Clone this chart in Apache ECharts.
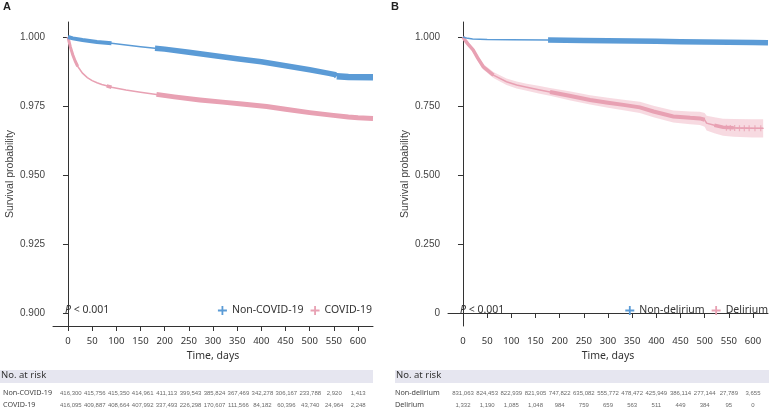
<!DOCTYPE html>
<html><head><meta charset="utf-8">
<script src="https://cdn.jsdelivr.net/npm/echarts@6/dist/echarts.min.js"></script>
<style>html,body{margin:0;padding:0;background:#fff}#c{width:769px;height:412px}</style>
</head><body><div id="c"></div>
<script>
// ---------- data ----------
const riskTimes = [0,50,100,150,200,250,300,350,400,450,500,550,600];
const yTicksA = [0.900,0.925,0.950,0.975,1.000];
const yTicksB = [0,0.25,0.5,0.75,1.0];

// Panel A: Non-COVID-19
const aNonT = [0,10,30,60,90,120,150,180,200,250,300,350,400,450,500,540,552,556,580,631];
const aNonS = [1.0,0.9995,0.9989,0.9982,0.9977,0.9971,0.9965,0.9959,0.9956,0.9945,0.9933,0.9921,0.9910,0.9896,0.9881,0.9868,0.9864,0.9858,0.9855,0.9854];
// Panel A: COVID-19
const aCovT = [0,2,5,10,15,20,30,40,50,60,70,80,90,120,150,183,220,273,320,360,411,450,500,549,580,600,631];
const aCovS = [1.0,0.9985,0.9963,0.9935,0.9912,0.9894,0.9869,0.9853,0.9842,0.9834,0.9828,0.9823,0.9818,0.9808,0.9800,0.9792,0.9783,0.9772,0.9764,0.9757,0.9748,0.9738,0.9726,0.9716,0.9710,0.9707,0.9705];

// Panel B: Non-delirium
const bNonT = [0,5,10,20,50,100,176,250,300,350,400,450,500,550,600,631];
const bNonS = [1.0,0.997,0.995,0.993,0.991,0.990,0.989,0.9875,0.9865,0.9853,0.9842,0.9831,0.982,0.981,0.980,0.979];
// Panel B: Delirium (with 95% CI)
const bDelT = [0,4,10,21,30,42,63,90,111,132,159,180,220,263,300,332,366,394,435,470,490,500,504,520,538,560,600,621];
const bDelS = [1.0,0.989,0.975,0.953,0.925,0.892,0.862,0.838,0.826,0.818,0.808,0.801,0.787,0.772,0.762,0.754,0.745,0.730,0.712,0.707,0.705,0.700,0.688,0.680,0.673,0.671,0.669,0.669];
const bDelLo = [1.0,0.985,0.969,0.945,0.916,0.882,0.851,0.826,0.813,0.805,0.794,0.787,0.771,0.755,0.744,0.735,0.725,0.709,0.690,0.684,0.681,0.675,0.661,0.651,0.642,0.639,0.636,0.636];
const bDelHi = [1.0,0.993,0.981,0.961,0.934,0.902,0.873,0.850,0.839,0.831,0.822,0.815,0.803,0.789,0.780,0.773,0.765,0.751,0.734,0.730,0.729,0.725,0.715,0.709,0.704,0.703,0.702,0.702];
// Delirium late censor marks
const bDelCensT = [545,553,562,572,582,592,604,616];
const bDelCensS = [0.671,0.670,0.670,0.669,0.669,0.669,0.669,0.669];

// Numbers at risk
const aNonRisk = [416300,415756,415350,414961,411113,399543,385824,367469,342278,306167,233788,2920,1413];
const aCovRisk = [416095,409887,408664,407992,337493,226298,170607,111566,84182,60396,43740,24964,2248];
const bNonRisk = [831063,824453,822939,821905,747822,635082,555772,478472,425949,386114,277144,27789,3655];
const bDelRisk = [1332,1190,1085,1048,984,759,659,563,511,449,384,95,0];

// ---------- styling ----------
const BLUE = '#5b9bd6', PINK = '#e8a1b3', PINK_CI = '#f6d6de';
const FONT = 'Noto Sans', FONT2 = 'Liberation Sans';
const plusIcon = 'path://M4,0h2v4h4v2h-4v4h-2v-4h-4v-2h4z';

function pairs(T,S){return T.map((t,i)=>[t,S[i]]);}
function seg(T,S,a,b){return pairs(T,S).filter(p=>p[0]>=a&&p[0]<=b);}

const X0 = -31, X1 = 631;
function mainX(idx){
  return {gridIndex:idx,type:'value',min:X0,max:X1,
    axisLine:{show:true,lineStyle:{color:'#333',width:1}},
    axisTick:{show:true,length:5,lineStyle:{color:'#333'},customValues:riskTimes},
    axisLabel:{show:true,customValues:riskTimes,margin:10,fontSize:9.5,color:'#333',fontFamily:FONT},
    splitLine:{show:false},
    name:'Time, days',nameLocation:'middle',nameGap:25,
    nameTextStyle:{fontSize:10.5,color:'#333',fontFamily:FONT}};
}
function mainY(idx,min,max,ticks,fmt){
  return {gridIndex:idx,type:'value',min:min,max:max,
    axisLine:{show:true,lineStyle:{color:'#333',width:1}},
    axisTick:{show:true,length:5,lineStyle:{color:'#333'},customValues:ticks},
    axisLabel:{show:true,customValues:ticks,margin:8,fontSize:10,color:'#444',fontFamily:FONT2,formatter:fmt},
    splitLine:{show:false},
    name:'Survival probability',nameLocation:'middle',nameGap:37,
    nameTextStyle:{fontSize:10.5,color:'#444',fontFamily:FONT2}};
}
function tableX(idx){
  return {gridIndex:idx,type:'value',min:X0,max:X1,show:false};
}
function tableY(idx,names,margin){
  return {gridIndex:idx,type:'category',data:names,inverse:true,
    axisLine:{show:false},axisTick:{show:false},splitLine:{show:false},
    axisLabel:{show:true,align:'left',margin:margin,fontSize:7.2,color:'#444',fontFamily:FONT}};
}
function line(name,data,xi,color,width,z){
  return {name:name,type:'line',xAxisIndex:xi,yAxisIndex:xi,data:data,
    symbol:'none',showSymbol:false,silent:true,z:z||3,
    lineStyle:{color:color,width:width,cap:'butt',join:'miter'},itemStyle:{color:color}};
}
function riskSeries(xi,row,vals){
  return {type:'scatter',xAxisIndex:xi,yAxisIndex:xi,silent:true,symbolSize:1,
    itemStyle:{color:'transparent'},
    data:riskTimes.map((t,i)=>[t,row,vals[i]]),
    label:{show:true,position:'inside',fontSize:6,color:'#444',fontFamily:FONT2,
      formatter:p=>p.value[2].toLocaleString('en-US')}};
}

const bandData = bDelT.map((t,i)=>[t,bDelLo[i],bDelHi[i]]);
const bandSeries = {
  type:'custom',xAxisIndex:1,yAxisIndex:1,silent:true,z:1,
  data:bandData,
  encode:{x:0,y:[1,2]},
  renderItem:function(params,api){
    if(params.dataIndex!==0) return null;
    const up = bandData.map(d=>api.coord([d[0],d[2]]));
    const lo = bandData.map(d=>api.coord([d[0],d[1]])).reverse();
    return {type:'polygon',shape:{points:up.concat(lo)},style:{fill:PINK_CI,opacity:0.9}};
  }
};

const series = [
  // Panel A
  line('Non-COVID-19',pairs(aNonT,aNonS),0,BLUE,1.5,4),
  line('_aNon1',seg(aNonT,aNonS,0,90),0,BLUE,4,4),
  line('_aNon2',seg(aNonT,aNonS,180,556),0,BLUE,5.5,4),
  line('_aNon3',seg(aNonT,aNonS,556,631),0,BLUE,6.5,4),
  line('COVID-19',pairs(aCovT,aCovS),0,PINK,1.5,3),
  line('_aCov0',seg(aCovT,aCovS,0,20),0,PINK,3,3),
  line('_aCov1',seg(aCovT,aCovS,80,90),0,PINK,3.5,3),
  line('_aCov2',seg(aCovT,aCovS,183,631),0,PINK,5,3),
  // Panel B
  bandSeries,
  line('Non-delirium',pairs(bNonT,bNonS),1,BLUE,1.5,4),
  line('_bNon1',seg(bNonT,bNonS,176,631),1,BLUE,5.5,4),
  line('Delirium',pairs(bDelT,bDelS),1,PINK,1.5,3),
  line('_bDel1',seg(bDelT,bDelS,0,63),1,PINK,3.5,3),
  line('_bDel2',seg(bDelT,bDelS,176,500),1,PINK,4,3),
  line('_bDel3',seg(bDelT,bDelS,520,560),1,PINK,3.5,3),
  {type:'scatter',xAxisIndex:1,yAxisIndex:1,data:pairs(bDelCensT,bDelCensS),symbol:plusIcon,symbolSize:6,
    itemStyle:{color:PINK},silent:true,z:3},
  // Risk tables
  riskSeries(2,0,aNonRisk), riskSeries(2,1,aCovRisk),
  riskSeries(3,0,bNonRisk), riskSeries(3,1,bDelRisk)
];

const legendCommon = {orient:'horizontal',itemWidth:9,itemHeight:9,itemGap:7,icon:plusIcon,padding:0,
  textStyle:{fontSize:10.5,color:'#333',fontFamily:FONT},selectedMode:false};

const option = {
  animation:false,
  backgroundColor:'#fff',
  grid:[
    {left:53,top:22,width:320,height:304},
    {left:448,top:22,width:320,height:304},
    {left:53,top:387,width:320,height:24},
    {left:448,top:387,width:320,height:24}
  ],
  xAxis:[mainX(0),mainX(1),tableX(2),tableX(3)],
  yAxis:[
    mainY(0,0.89529,1.00543,yTicksA,v=>v.toFixed(3)),
    mainY(1,-0.0471,1.0543,yTicksB,v=>v===0?'0':v.toFixed(3)),
    tableY(2,['Non-COVID-19','COVID-19'],53),
    tableY(3,['Non-delirium','Delirium'],53)
  ],
  legend:[
    Object.assign({data:['Non-COVID-19','COVID-19'],right:397,top:305},legendCommon),
    Object.assign({data:['Non-delirium','Delirium'],right:1,top:305},legendCommon)
  ],
  graphic:[
    {type:'text',left:3,top:1,style:{text:'A',fontSize:11,fontWeight:'bold',fill:'#222',fontFamily:FONT2}},
    {type:'text',left:391,top:1,style:{text:'B',fontSize:11,fontWeight:'bold',fill:'#222',fontFamily:FONT2}},
    {type:'text',left:65,top:305,style:{text:'{i|P} < 0.001',fontSize:10.5,fill:'#333',fontFamily:FONT,
      rich:{i:{fontStyle:'italic',fontSize:10.5,fontFamily:FONT,fill:'#333'}}}},
    {type:'text',left:460,top:305,style:{text:'{i|P} < 0.001',fontSize:10.5,fill:'#333',fontFamily:FONT,
      rich:{i:{fontStyle:'italic',fontSize:10.5,fontFamily:FONT,fill:'#333'}}}},
    {type:'rect',shape:{x:0,y:370,width:373,height:13},style:{fill:'#e6e6f0'},z:-1},
    {type:'rect',shape:{x:395,y:370,width:374,height:13},style:{fill:'#e6e6f0'},z:-1},
    {type:'text',left:1,top:370.5,style:{text:'No. at risk',fontSize:9.5,fill:'#333',fontFamily:FONT}},
    {type:'text',left:396,top:370.5,style:{text:'No. at risk',fontSize:9.5,fill:'#333',fontFamily:FONT}}
  ],
  series:series
};
const chart = echarts.init(document.getElementById('c'),null,{renderer:'canvas'});
chart.setOption(option);
</script>
</body></html>
